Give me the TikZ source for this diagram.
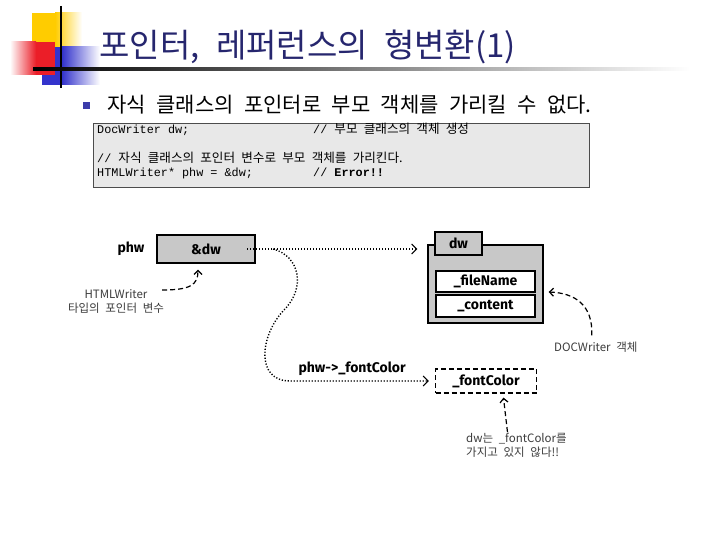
\documentclass[tikz,border=0pt]{standalone}
\usepackage{fontspec}
\usetikzlibrary{arrows.meta}
\newfontfamily\krfont[WordSpace=2.2]{Noto Sans CJK KR}
\newfontfamily\codefont{Liberation Mono}
\newfontfamily\handfont{Fira Sans}
\newcommand\kr[1]{{\krfont\fontsize{12.6}{13}\selectfont #1}}
\definecolor{ttlyellow}{RGB}{255,204,0}
\definecolor{ttlred}{RGB}{235,30,40}
\definecolor{ttlblue}{RGB}{51,51,204}
\definecolor{ttlnavy}{RGB}{38,38,110}
\definecolor{bulletblue}{RGB}{60,60,170}
\definecolor{codegray}{RGB}{232,232,232}
\definecolor{boxgray}{RGB}{200,200,200}
\definecolor{notegray}{RGB}{60,60,60}
\tikzset{
  hand/.style={font=\handfont\bfseries\fontsize{14}{16}\selectfont},
  codeline/.style={anchor=base west, inner sep=0pt, font=\codefont\fontsize{11.8}{13}\selectfont},
  codebox/.style={draw=black!70, fill=codegray, line width=0.8pt, inner sep=0pt},
  ptrbox/.style={draw, line width=1.3pt, fill=boxgray, minimum width=98pt, minimum height=28pt, inner sep=0pt, hand},
  objbox/.style={draw, line width=1.3pt, fill=boxgray, inner sep=0pt, hand},
  fieldbox/.style={draw, line width=1.3pt, fill=white, minimum width=99pt, inner sep=0pt, hand},
  dashbox/.style={draw, dashed, dash pattern=on 5pt off 3pt, line width=1.3pt, minimum width=101pt, minimum height=24pt, inner sep=0pt, hand},
  dotarrow/.style={line width=1.4pt, dash pattern=on 1.2pt off 1.8pt, -{Straight Barb[length=5pt,width=10pt,line width=1pt]}},
  dasharrow/.style={dashed, dash pattern=on 5pt off 3pt, line width=1.2pt, -{Straight Barb[length=4pt,width=8pt]}},
  note/.style={font=\krfont\fontsize{11.5}{14}\selectfont, text=notegray, inner sep=1pt}
}
\begin{document}
\begin{tikzpicture}[x=1pt,y=-1pt]
  \useasboundingbox[fill=white] (0,0) rectangle (720,540);

  % title
  \fill[ttlyellow] (32,13) rectangle (55,47);
  \shade[left color=ttlyellow, right color=white] (55,13) rectangle (82,47);
  \fill[ttlblue] (42,47) rectangle (62,85);
  \shade[left color=ttlblue, right color=white] (62,47) rectangle (100,85);
  \shade[left color=white, right color=ttlred] (10,42) rectangle (36,75);
  \fill[ttlred] (36,42) rectangle (55,75);
  \draw[line width=2.5pt] (61,6) -- (61,88);
  \shade[left color=black, right color=white] (33,68) rectangle (690,70.5);
  \node[anchor=west, text=ttlnavy, font=\krfont\fontsize{33}{38}\selectfont] (title) at (96,47) {포인터, 레퍼런스의 형변환(1)};

  \node[fill=bulletblue, minimum size=7pt, inner sep=0pt] (bullet) at (86,106) {};
  \node[anchor=west, font=\krfont\fontsize{21}{24}\selectfont] (point) at (104,105) {자식 클래스의 포인터로 부모 객체를 가리킬 수 없다.};

  % code
  \node[codebox, anchor=north west, minimum width=496pt, minimum height=64pt] (code) at (93,123) {};
  \node[codeline] (c1) at (97,134) {DocWriter dw;};
  \node[codeline] (c1r) at (313,134) {// \kr{부모 클래스의 객체 생성}};
  \node[codeline] (c3) at (97,163) {// \kr{자식 클래스의 포인터 변수로 부모 객체를 가리킨다.}};
  \node[codeline] (c4) at (97,177) {HTMLWriter* phw = \&dw;};
  \node[codeline] (c4r) at (313,177) {// \textbf{Error!!}};

  % pointer
  \node[ptrbox] (phw) at (206,249) {\&dw};
  \node[hand, anchor=east] (phwname) at (148,249) {phw};

  % object
  \node[objbox, minimum width=115pt, minimum height=78pt] (dwbody) at (485.5,284) {};
  \node[objbox, minimum width=47pt, minimum height=23pt] (dwtab) at (458.5,243.5) {dw};
  \node[fieldbox, minimum height=21pt] (fname) at (485.5,281.5) {\_fileName};
  \node[fieldbox, minimum height=22pt] (fcontent) at (485.5,306) {\_content};

  \node[dashbox] (fcolor) at (486,381) {\_fontColor};
  \node[hand, anchor=base west] (deref) at (295,372) {phw->\_fontColor};

  \coordinate (phwdot) at (247,249);
  \coordinate (branch) at (273,249);
  \draw[dotarrow, shorten >=10pt] (phwdot) -- (dwbody.west |- phwdot);
  \draw[dotarrow, shorten >=6pt] (branch) .. controls (300,256) and (306,288) .. (284,310)
    .. controls (260,335) and (255,381) .. (290,381) -- (fcolor.west);

  % notes
  \node[note, align=center] (htmlnote) at (116,301) {HTMLWriter\\타입의 포인터 변수};
  \draw[dasharrow] ([shift={(-3,-11)}]htmlnote.east) .. controls (190,290) and (198,285) .. ([shift={(-8,6)}]phw.south);

  \node[note, anchor=base west] (docnote) at (553,351) {DOCWriter 객체};
  \draw[dasharrow] ([shift={(-4,-5)}]docnote.north) .. controls (593,305) and (575,293) .. ([shift={(5,8)}]dwbody.east);

  \node[note, anchor=north west, align=left] (nocolor) at (465,432) {dw는 \_fontColor를\\가지고 있지 않다!!};
  \draw[dasharrow, shorten >=4pt] ([xshift=-9pt]nocolor.north) -- ([xshift=17pt]fcolor.south);
\end{tikzpicture}
\end{document}
